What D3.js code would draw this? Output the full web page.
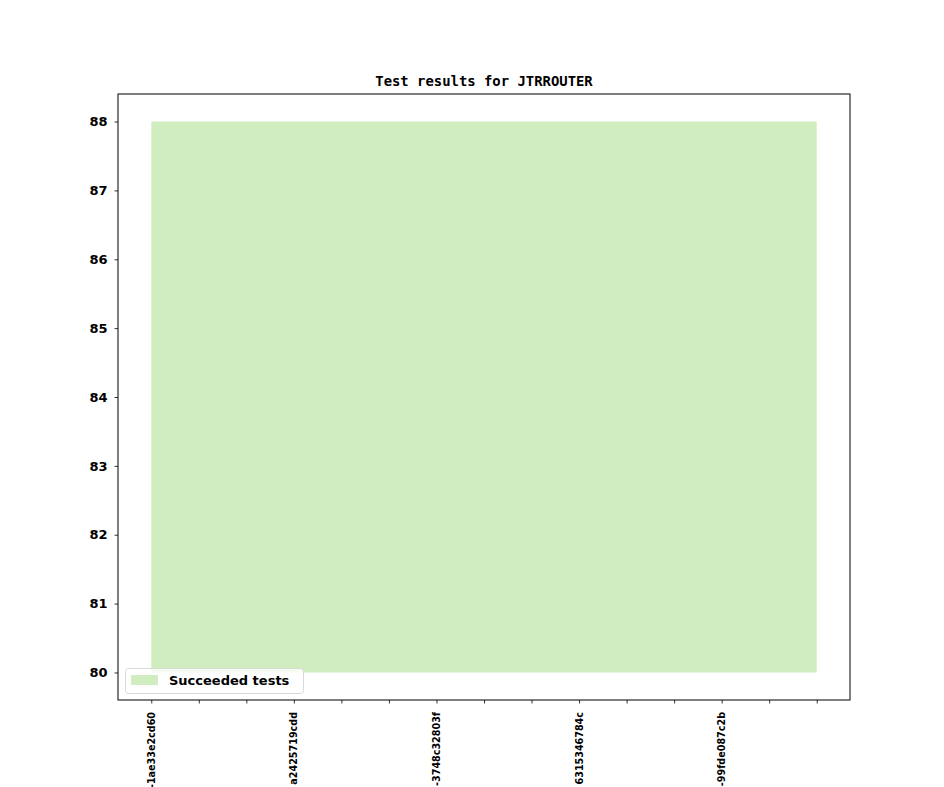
<!DOCTYPE html>
<html><head><meta charset="utf-8">
<script src="https://cdn.jsdelivr.net/npm/d3@7"></script>
<style>body{margin:0;background:#fff}svg{display:block}</style>
</head><body>
<script>
const builds = d3.range(15);
const tickLabels = ["-1ae33e2cd60","","","a2425719cdd","","","-3748c32803f","","","6315346784c","","","-99fde087c2b","",""];
const succeeded = [88,88,88,88,88,88,88,88,88,88,88,88,88,88,88];
const baseline = [80,80,80,80,80,80,80,80,80,80,80,80,80,80,80];
const yTicks = [80,81,82,83,84,85,86,87,88];

const W = 944, H = 787;
const L = 118, R = 850, T = 94, B = 700;
const svg = d3.select("body").append("svg").attr("width", W).attr("height", H);

const x = d3.scaleLinear().domain([-0.7, 14.7]).range([L, R]);
const y = d3.scaleLinear().domain([79.6, 88.4]).range([B, T]);

const area = d3.area().x((d,i)=>x(builds[i])).y0((d,i)=>y(baseline[i])).y1(d=>y(d));
svg.append("path").datum(succeeded).attr("d", area).attr("fill", "#cfedbf");

const xAxis = d3.axisBottom(x).tickValues(builds).tickSize(3.5).tickFormat("");
const gx = svg.append("g").attr("transform", `translate(0,${B})`).call(xAxis);
gx.select(".domain").remove();
gx.selectAll(".tick line").attr("stroke", "#000").attr("stroke-width", 0.8);

builds.forEach((b,i)=>{
  if (!tickLabels[i]) return;
  svg.append("text")
    .attr("transform", `translate(${x(b)+3.5},${B+12}) rotate(-90)`)
    .attr("text-anchor", "end")
    .style("font-family", "DejaVu Sans")
    .style("font-weight", "bold")
    .style("font-size", "9.6px")
    .text(tickLabels[i]);
});

const yAxis = d3.axisLeft(y).tickValues(yTicks).tickSize(3.5).tickFormat(d3.format("d")).tickPadding(7);
const gy = svg.append("g").attr("transform", `translate(${L},0)`).call(yAxis);
gy.select(".domain").remove();
gy.selectAll(".tick line").attr("stroke", "#000").attr("stroke-width", 0.8);
gy.selectAll(".tick text").style("font-family", "DejaVu Sans").style("font-weight", "bold").style("font-size", "13px").attr("fill", "#000");

svg.append("rect").attr("x", L).attr("y", T).attr("width", R-L).attr("height", B-T)
  .attr("fill", "none").attr("stroke", "#000").attr("stroke-width", 1);

svg.append("text").attr("x", (L+R)/2).attr("y", 86).attr("text-anchor", "middle")
  .style("font-family", "DejaVu Sans Mono").style("font-weight", "bold").style("font-size", "13.9px")
  .text("Test results for JTRROUTER");

const lg = svg.append("g");
lg.append("rect").attr("x", 125.5).attr("y", 668.5).attr("width", 178).attr("height", 25).attr("rx", 3)
  .attr("fill", "#fff").attr("fill-opacity", 0.8).attr("stroke", "#d9d9d9");
lg.append("rect").attr("x", 131).attr("y", 675).attr("width", 27).attr("height", 10).attr("fill", "#cfedbf");
lg.append("text").attr("x", 169).attr("y", 685).style("font-family", "DejaVu Sans").style("font-weight", "bold")
  .style("font-size", "13px").text("Succeeded tests");
</script>
</body></html>
